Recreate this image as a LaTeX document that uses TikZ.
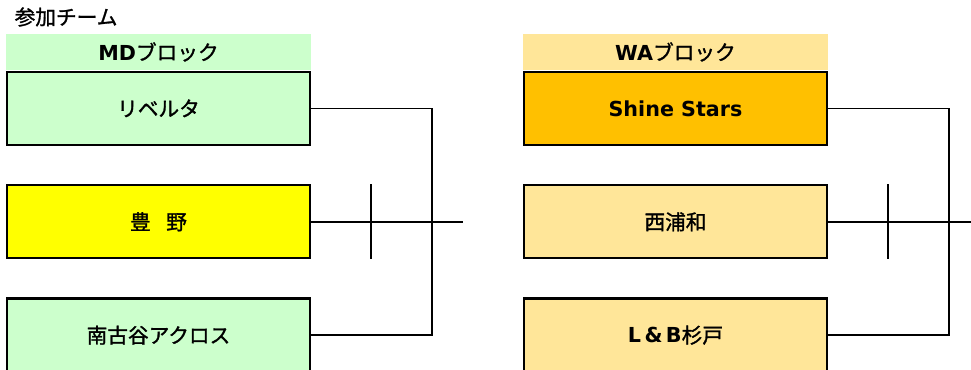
\documentclass[tikz,border=0pt]{standalone}
\usepackage{fontspec}
\setmainfont{Noto Sans CJK JP}[BoldFont={Noto Sans CJK JP}, BoldFeatures={FakeBold=1.3}]
\newfontfamily\latinfont{DejaVu Sans}
\usetikzlibrary{positioning}

\definecolor{mdgreen}{HTML}{CCFFCC}
\definecolor{tyyellow}{HTML}{FFFF00}
\definecolor{waorange}{HTML}{FFC000}
\definecolor{walight}{HTML}{FFE699}

\begin{document}
\begin{tikzpicture}[x=0.75pt, y=-0.75pt, node distance=28.5pt]
          % estilos
          \tikzstyle{team} = [draw, line width=1.8pt, minimum width=227pt, minimum height=54.75pt, font=\bfseries\fontsize{15.5}{18}\selectfont]
          \tikzstyle{blockhead} = [minimum width=229pt, minimum height=27pt, inner sep=0pt, font=\bfseries\fontsize{15.5}{18}\selectfont]
          \tikzstyle{wire} = [line width=1.25pt]

          \useasboundingbox (0,0) rectangle (971,370);

          \node [anchor=west, font=\bfseries\fontsize{15.5}{18}\selectfont] (title) at (10,17) {参加チーム};

          % bloque MD
          \node [blockhead, fill=mdgreen] (mdhead) at (158.5,52) {{\latinfont\bfseries MD}ブロック};
          \node [team, fill=mdgreen, below=0.3pt of mdhead] (md1) {リベルタ};
          \node [team, fill=tyyellow, below=of md1] (md2) {豊\hspace{.75em}野};
          \node [team, fill=mdgreen, below=of md2] (md3) {南古谷アクロス};

          % bloque WA
          \node [blockhead, fill=walight] (wahead) at (675.5,52) {{\latinfont\bfseries WA}ブロック};
          \node [team, fill=waorange, below=0.3pt of wahead] (wa1) {\latinfont\bfseries Shine Stars};
          \node [team, fill=walight, below=of wa1] (wa2) {西浦和};
          \node [team, fill=walight, below=of wa2] (wa3) {{\latinfont\bfseries L\,\&\,B}杉戸};

          % puntos de las llaves
          \coordinate [right=90.5pt of md1] (mdbar);
          \coordinate [right=114pt of md2] (mdout);
          \coordinate [right=45pt of md2.north east] (mdtickA);
          \coordinate [right=45pt of md2.south east] (mdtickB);
          \coordinate [right=90.5pt of wa1] (wabar);
          \coordinate [right=112pt of wa2] (waout);
          \coordinate [right=45pt of wa2.north east] (watickA);
          \coordinate [right=45pt of wa2.south east] (watickB);

          % conexiones
          \draw [wire] (md1.east) -- (mdbar) |- (md3.east);
          \draw [wire] (md2.east) -- (mdout);
          \draw [wire] (mdtickA) -- (mdtickB);
          \draw [wire] (wa1.east) -- (wabar) |- (wa3.east);
          \draw [wire] (wa2.east) -- (waout);
          \draw [wire] (watickA) -- (watickB);
        \end{tikzpicture}
\end{document}
